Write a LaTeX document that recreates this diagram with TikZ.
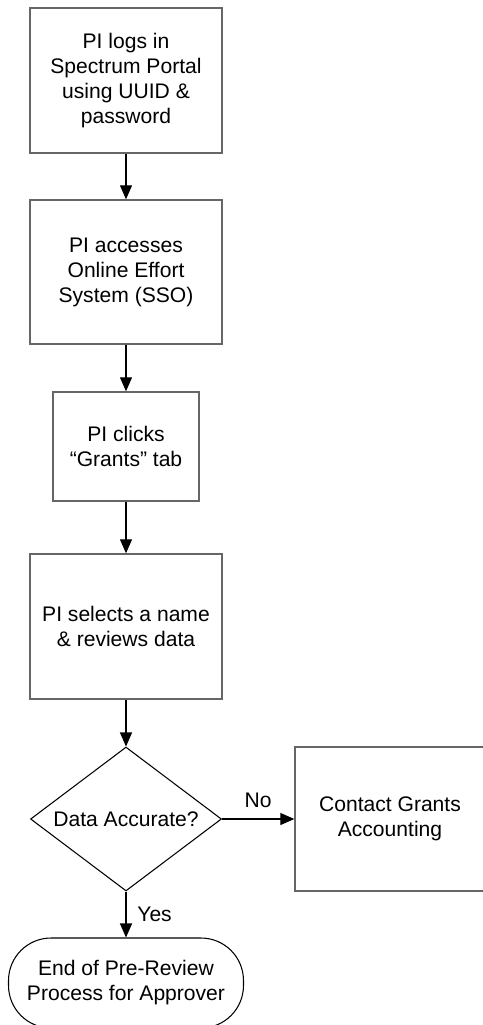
\documentclass[tikz,border=0pt]{standalone}
\usepackage{fontspec}
\setmainfont{Liberation Sans}
\usetikzlibrary{shapes.geometric,arrows.meta}

\begin{document}
\begin{tikzpicture}[x=0.02cm, y=-0.02cm,
    font=\fontsize{12}{14.2}\selectfont,
    procbox/.style={rectangle, draw=black!60, line width=0.8pt, align=center, inner sep=2pt},
    decision/.style={diamond, draw, line width=0.6pt, aspect=1.33, inner sep=0pt, align=center,
      minimum width=3.82cm, minimum height=2.88cm},
    terminal/.style={rectangle, rounded corners=0.85cm, draw, line width=0.6pt, align=center,
      minimum width=4.7cm, minimum height=1.8cm},
    flow/.style={-{Triangle[length=0.28cm, width=0.24cm]}, line width=0.6pt}]
    \useasboundingbox (0,0) rectangle (483,1025);
    \clip (0,0) rectangle (483,1025);

    \node[procbox, minimum width=3.84cm, minimum height=2.9cm] (login) at (126, 80.5)
      {PI logs in\\Spectrum Portal\\using UUID \&\\password};
    \node[procbox, minimum width=3.84cm, minimum height=2.88cm] (access) at (126, 272)
      {PI accesses\\Online Effort\\System (SSO)};
    \node[procbox, minimum width=2.92cm, minimum height=2.18cm] (grants) at (126, 446.5)
      {PI clicks\\“Grants” tab};
    \node[procbox, minimum width=3.84cm, minimum height=2.9cm] (review) at (126, 626.5)
      {PI selects a name\\\& reviews data};
    \node[decision] (accurate) at (126, 819) {Data Accurate?};
    \node[procbox, minimum width=3.8cm, minimum height=2.88cm] (contact) at (390, 819)
      {Contact Grants\\Accounting};
    \node[terminal] (finish) at (126, 983) {End of Pre-Review\\Process for Approver};

    % flow arrows
    \draw[flow] (login) -- (access);
    \draw[flow] (access) -- (grants);
    \draw[flow] (grants) -- (review);
    \draw[flow] (review) -- (accurate);
    \draw[flow] (accurate) -- node[above=0.1cm] {No} (contact);
    \draw[flow] (accurate) -- node[right=0.1cm] {Yes} (finish);
\end{tikzpicture}
\end{document}
